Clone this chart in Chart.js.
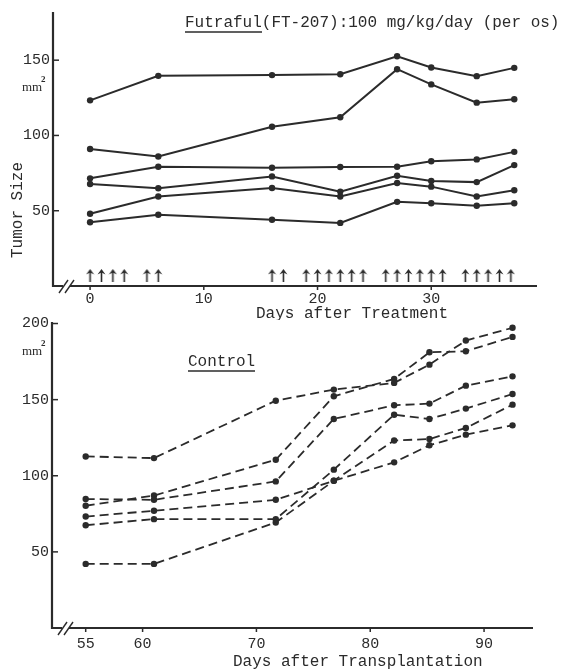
<!DOCTYPE html>
<html>
<head>
<meta charset="utf-8">
<script src="https://cdn.jsdelivr.net/npm/chart.js@4.4.0/dist/chart.umd.min.js"></script>
<style>
  body { margin: 0; background: #fff; width: 561px; height: 672px; overflow: hidden; position: relative; }
  canvas { position: absolute; left: 0; }
  #futraful { top: 0; }
  #control { top: 300px; }
</style>
</head>
<body>
<canvas id="futraful" width="561" height="320"></canvas>
<canvas id="control" width="561" height="372"></canvas>
<script>
// --- data ---
// upper panel: Futraful treated, days after treatment
const ftDays = [0, 6, 16, 22, 27, 30, 34, 37.3];
const ftMouse1 = [123.3, 139.6, 140.1, 140.7, 152.6, 145.1, 139.4, 144.9];
const ftMouse2 = [91.0, 86.0, 105.8, 112.1, 144.0, 133.9, 121.8, 124.0];
const ftMouse3 = [71.5, 79.2, 78.5, 79.0, 79.2, 82.9, 84.1, 89.1];
const ftMouse4 = [67.8, 64.9, 72.8, 62.7, 73.2, 69.7, 69.0, 80.3];
const ftMouse5 = [48.0, 59.4, 65.1, 59.4, 68.4, 66.0, 59.4, 63.6];
const ftMouse6 = [42.3, 47.3, 44.0, 41.9, 55.9, 55.0, 53.3, 55.0];
const doseDays = [0, 1, 2, 3, 5, 6, 16, 17, 19, 20, 21, 22, 23, 24, 26, 27, 28, 29, 30, 31, 33, 34, 35, 36, 37];
const ftTicksX = [0, 10, 20, 30];
const ftTicksY = [50, 100, 150];

// lower panel: control, days after transplantation
const ctrlDays = [55, 61, 71.7, 76.8, 82.1, 85.2, 88.4, 92.5];
const ctrlMouse1 = [112.7, 111.6, 149.3, 156.6, 161.0, 173.0, 188.8, 197.2];
const ctrlMouse2 = [80.3, 87.0, 110.5, 152.2, 163.6, 181.1, 181.8, 191.2];
const ctrlMouse3 = [84.7, 84.2, 96.3, 137.3, 146.3, 147.4, 159.2, 165.3];
const ctrlMouse4 = [73.2, 77.0, 84.2, 96.7, 108.8, 120.0, 127.0, 133.1];
const ctrlMouse5 = [67.5, 71.5, 71.5, 104.0, 140.1, 137.3, 144.1, 153.7];
const ctrlMouse6 = [42.1, 42.1, 69.3, 96.7, 123.2, 124.1, 131.4, 146.7];
const ctrlTicksX = [55, 60, 70, 80, 90];
const ctrlTicksY = [50, 100, 150, 200];

const ink = '#2b2b2b';
const mono = '"Liberation Mono", "DejaVu Sans Mono", monospace';

function pts(days, vals) {
  return vals.map((v, i) => ({ x: days[i], y: v }));
}

function arrowImg() { // little up arrow used as point style for dosing days
  const c = document.createElement('canvas');
  c.width = 9; c.height = 13;
  const g = c.getContext('2d');
  g.strokeStyle = ink; g.fillStyle = ink; g.lineWidth = 1.6;
  g.beginPath(); g.moveTo(4.5, 3); g.lineTo(4.5, 13); g.stroke();
  g.beginPath(); g.moveTo(4.5, 0); g.lineTo(8.5, 5.5); g.lineTo(4.5, 3.5); g.lineTo(0.5, 5.5); g.closePath(); g.fill();
  return c;
}

function series(days, vals, dashed) {
  return {
    data: pts(days, vals),
    borderColor: ink,
    borderWidth: dashed ? 1.8 : 2,
    borderDash: dashed ? [9, 5] : [],
    pointRadius: 3.2,
    pointBackgroundColor: ink,
    pointBorderWidth: 0,
    tension: 0
  };
}

/* draws the axes, inward ticks, break mark and the typed labels
 * texts: [{t, x, y, font, align, rot, under:[x1,x2,y]}]
 */
function decor(texts) {
  return {
    id: 'decor',
    afterDraw(chart) {
      const g = chart.ctx, a = chart.chartArea;
      const xs = chart.scales.x, ys = chart.scales.y;
      g.save();
      g.strokeStyle = ink;
      g.lineWidth = 2.2;
      g.beginPath();
      g.moveTo(a.left, a.top); g.lineTo(a.left, a.bottom); g.lineTo(a.right, a.bottom);
      g.stroke();
      g.lineWidth = 1.5;
      ys.ticks.forEach(t => {
        const y = ys.getPixelForValue(t.value);
        g.beginPath(); g.moveTo(a.left, y); g.lineTo(a.left + 6, y); g.stroke();
      });
      xs.ticks.forEach(t => {
        const x = xs.getPixelForValue(t.value);
        g.beginPath(); g.moveTo(x, a.bottom); g.lineTo(x, a.bottom + 4); g.stroke();
      });
      // axis break "//"
      g.fillStyle = '#fff';
      g.fillRect(a.left + 10, a.bottom - 3, 7, 6);
      g.lineWidth = 1.4;
      [a.left + 6, a.left + 12].forEach(x0 => {
        g.beginPath(); g.moveTo(x0, a.bottom + 7); g.lineTo(x0 + 9, a.bottom - 6); g.stroke();
      });
      g.fillStyle = ink;
      texts.forEach(o => {
        g.save();
        g.font = o.font || ('16px ' + mono);
        g.textAlign = o.align || 'left';
        g.textBaseline = 'middle';
        g.translate(o.x, o.y);
        if (o.rot) g.rotate(o.rot);
        g.fillText(o.t, 0, 0);
        g.restore();
        if (o.under) {
          g.lineWidth = 1.3;
          g.beginPath(); g.moveTo(o.under[0], o.under[2]); g.lineTo(o.under[1], o.under[2]); g.stroke();
        }
      });
      g.restore();
    }
  };
}

function axes(xMin, xMax, xTicks, yMax, yTicks, yWidth, xHeight, xPad) {
  return {
    x: {
      type: 'linear', min: xMin, max: xMax,
      afterBuildTicks: s => { s.ticks = xTicks.map(v => ({ value: v })); },
      afterFit: s => { s.height = xHeight; },
      grid: { display: false, drawTicks: false }, border: { display: false },
      ticks: { color: ink, font: { family: mono, size: 15 }, padding: xPad, maxRotation: 0 }
    },
    y: {
      type: 'linear', min: 0, max: yMax,
      afterBuildTicks: s => { s.ticks = yTicks.map(v => ({ value: v })); },
      afterFit: s => { s.width = yWidth; },
      grid: { display: false, drawTicks: false }, border: { display: false },
      ticks: { color: ink, font: { family: mono, size: 15 }, padding: 3 }
    }
  };
}

const common = {
  responsive: false,
  animation: false,
  events: [],
  plugins: { legend: { display: false }, tooltip: { enabled: false } }
};

const ftSets = [ftMouse1, ftMouse2, ftMouse3, ftMouse4, ftMouse5, ftMouse6].map(v => series(ftDays, v, false));
ftSets.push({
  data: doseDays.map(d => ({ x: d, y: 7 })),
  showLine: false,
  pointStyle: arrowImg(),
  pointRadius: 5
});

new Chart(document.getElementById('futraful'), {
  type: 'line',
  data: { datasets: ftSets },
  options: Object.assign({}, common, {
    layout: { padding: { left: 0, right: 24, top: 10, bottom: 0 } },
    scales: axes(-3.26, 39.3, ftTicksX, 182, ftTicksY, 53, 34, 4)
  }),
  plugins: [decor([
    { t: 'Futraful(FT-207):100 mg/kg/day (per os)', x: 185, y: 23, under: [185, 262, 32] },
    { t: 'mm', x: 22, y: 88, font: '13px "Liberation Serif", serif' },
    { t: '2', x: 41, y: 80, font: 'bold 9px "Liberation Serif", serif' },
    { t: 'Tumor Size', x: 18, y: 210, align: 'center', rot: -Math.PI / 2 },
    { t: 'Days after Treatment', x: 352, y: 314, align: 'center' }
  ])]
});

new Chart(document.getElementById('control'), {
  type: 'line',
  data: { datasets: [ctrlMouse1, ctrlMouse2, ctrlMouse3, ctrlMouse4, ctrlMouse5, ctrlMouse6].map(v => series(ctrlDays, v, true)) },
  options: Object.assign({}, common, {
    layout: { padding: { left: 0, right: 28, top: 22, bottom: 0 } },
    scales: axes(52.04, 94.3, ctrlTicksX, 201, ctrlTicksY, 52, 44, 7)
  }),
  plugins: [decor([
    { t: 'mm', x: 22, y: 52, font: '13px "Liberation Serif", serif' },
    { t: '2', x: 41, y: 44, font: 'bold 9px "Liberation Serif", serif' },
    { t: 'Control', x: 188, y: 62, under: [188, 255, 71] },
    { t: 'Days after Transplantation', x: 233, y: 362 }
  ])]
});
</script>
</body>
</html>
